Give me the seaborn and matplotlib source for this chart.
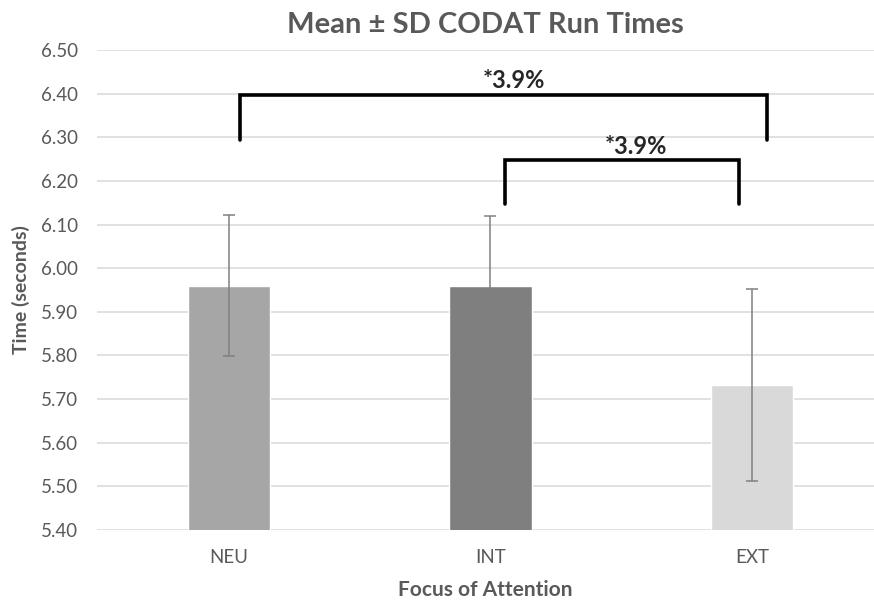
import matplotlib
matplotlib.use("Agg")
import matplotlib.pyplot as plt
import seaborn as sns
import pandas as pd

categories = ["NEU", "INT", "EXT"]
means = [5.96, 5.96, 5.733]
sds = [0.162, 0.160, 0.220]
bar_colors = ["#a6a6a6", "#7f7f7f", "#d9d9d9"]
y_ticks = [5.40, 5.50, 5.60, 5.70, 5.80, 5.90, 6.00, 6.10, 6.20, 6.30, 6.40, 6.50]
annotations = ["*3.9%", "*3.9%"]

sns.set_theme(style="white")
plt.rcParams['font.family'] = ['Lato', 'DejaVu Sans']

df = pd.DataFrame({"cat": categories, "mean": means})
fig = plt.figure(figsize=(8.74, 6.02), dpi=100)
ax = fig.add_axes([0.111, 0.1196, 0.889, 0.7974])

sns.barplot(data=df, x="cat", y="mean", hue="cat", palette=bar_colors,
            width=0.314, ax=ax, legend=False, zorder=2)
ax.errorbar(range(len(categories)), means, yerr=sds, fmt="none",
            ecolor="#808080", elinewidth=1.1, capsize=4, capthick=1.1, zorder=3)

ax.set_ylim(5.40, 6.50)
ax.set_xlim(-0.505, 2.467)
ax.set_yticks(y_ticks)
ax.set_yticklabels([f"{t:.2f}" for t in y_ticks])
ax.yaxis.grid(True, color="#d9d9d9", linewidth=1.1, zorder=0)
ax.set_axisbelow(True)
for s in ax.spines.values():
    s.set_visible(False)
ax.tick_params(axis="both", length=0, labelsize=13.5, colors="#595959")
ax.tick_params(axis="x", pad=14)
ax.tick_params(axis="y", pad=13.5)

ax.set_xlabel("Focus of Attention", fontsize=15, fontweight="bold", color="#595959", labelpad=10)
ax.set_ylabel("Time (seconds)", fontsize=14, fontweight="bold", color="#595959", labelpad=8)
ax.set_title("Mean \u00b1 SD CODAT Run Times", fontsize=21, fontweight="bold",
             color="#595959", pad=12)

# significance brackets
ax.plot([0.042, 0.042, 2.057, 2.057], [6.294, 6.397, 6.397, 6.294],
        color="black", linewidth=2.6, solid_joinstyle="miter", clip_on=False, zorder=4)
ax.text(1.09, 6.431, annotations[0], ha="center", va="center", fontsize=17,
        fontweight="bold", color="#262626")
ax.plot([1.054, 1.054, 1.95, 1.95], [6.147, 6.248, 6.248, 6.147],
        color="black", linewidth=2.6, solid_joinstyle="miter", clip_on=False, zorder=4)
ax.text(1.555, 6.279, annotations[1], ha="center", va="center", fontsize=17,
        fontweight="bold", color="#262626")

fig.savefig("out.png", dpi=100)
